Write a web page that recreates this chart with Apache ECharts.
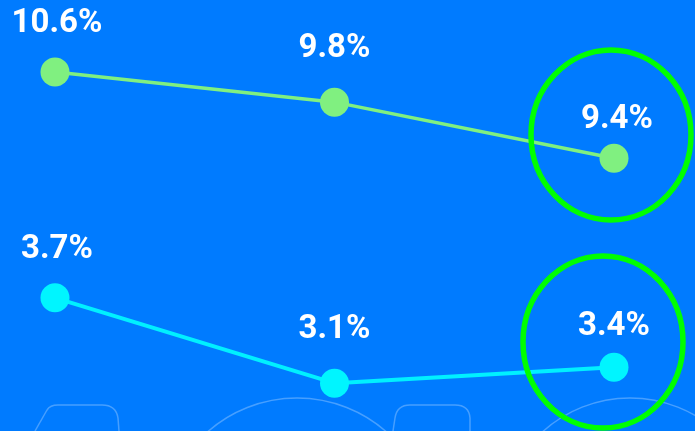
<!DOCTYPE html>
<html>
<head>
<meta charset="utf-8">
<script src="https://cdn.jsdelivr.net/npm/echarts@6/dist/echarts.min.js"></script>
<style>
html,body{margin:0;padding:0;background:#007bff;}
#chart{width:695px;height:431px;}
</style>
</head>
<body>
<div id="chart"></div>
<script>
// Data
const categories = ['P1', 'P2', 'P3'];
// displayed values (labels)
const upperLabels = [10.6, 9.8, 9.4];
const lowerLabels = [3.7, 3.1, 3.4];
// plotted levels (arbitrary 0-100 vertical scale)
const upperLevels = [83.3, 76.3, 63.3];
const lowerLevels = [30.9, 11.1, 14.8];

const upperOffsets = [[2, -12], [0, -17], [3, -2]];
const lowerOffsets = [[2, -12], [0, -17], [0, -4]];

function buildData(levels, labels, offsets) {
  return levels.map((v, i) => ({
    value: v,
    label: { offset: offsets[i], formatter: labels[i].toFixed(1) + '%' }
  }));
}

const labelStyle = {
  show: true,
  position: 'top',
  distance: 5,
  color: '#ffffff',
  fontFamily: 'Roboto',
  fontWeight: 'bold',
  fontSize: 33
};

const decoStroke = { stroke: 'rgba(255,255,255,0.28)', lineWidth: 1.5, fill: null };

function seg(type, shape) {
  return { type: type, z: 0, silent: true, shape: shape, style: decoStroke };
}
const deco = [
  seg('line', { x1: 35, y1: 431, x2: 47, y2: 410 }),
  seg('bezierCurve', { x1: 47, y1: 410, cpx1: 50, cpy1: 405, x2: 58, y2: 405 }),
  seg('line', { x1: 58, y1: 405, x2: 102, y2: 405 }),
  seg('bezierCurve', { x1: 102, y1: 405, cpx1: 116, cpy1: 405, x2: 118, y2: 418 }),
  seg('line', { x1: 118, y1: 418, x2: 119, y2: 431 }),
  seg('circle', { cx: 297, cy: 533, r: 135 }),
  seg('line', { x1: 393, y1: 431, x2: 395, y2: 418 }),
  seg('bezierCurve', { x1: 395, y1: 418, cpx1: 397, cpy1: 405, x2: 410, y2: 405 }),
  seg('line', { x1: 410, y1: 405, x2: 455, y2: 405 }),
  seg('bezierCurve', { x1: 455, y1: 405, cpx1: 469, cpy1: 405, x2: 470, y2: 418 }),
  seg('line', { x1: 470, y1: 418, x2: 470, y2: 431 }),
  seg('circle', { cx: 630, cy: 528, r: 130 })
];

const chart = echarts.init(document.getElementById('chart'));
chart.setOption({
  backgroundColor: '#007bff',
  animation: false,
  grid: { left: 55, right: 81, top: 0, bottom: 0 },
  xAxis: { type: 'category', data: categories, boundaryGap: false, show: false },
  yAxis: { type: 'value', min: 0, max: 100, show: false },
  graphic: deco.concat([
    { type: 'ellipse', z: 100, silent: true, shape: { cx: 611, cy: 135, rx: 80, ry: 85 }, style: { stroke: '#00ff00', lineWidth: 5.5, fill: null } },
    { type: 'ellipse', z: 100, silent: true, shape: { cx: 603, cy: 342, rx: 80, ry: 86 }, style: { stroke: '#00ff00', lineWidth: 5.5, fill: null } }
  ]),
  series: [
    {
      type: 'line',
      data: buildData(upperLevels, upperLabels, upperOffsets),
      symbol: 'circle',
      symbolSize: 29,
      lineStyle: { color: '#80f080', width: 3.5 },
      itemStyle: { color: '#80f080' },
      label: labelStyle
    },
    {
      type: 'line',
      data: buildData(lowerLevels, lowerLabels, lowerOffsets),
      symbol: 'circle',
      symbolSize: 29,
      lineStyle: { color: '#00f0ff', width: 4 },
      itemStyle: { color: '#00f5ff' },
      label: labelStyle
    }
  ]
});
</script>
</body>
</html>
